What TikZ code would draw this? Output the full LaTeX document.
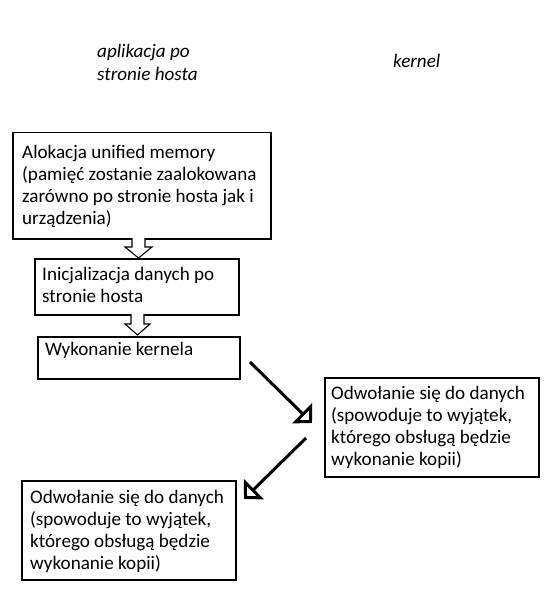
\documentclass[tikz,border=0pt]{standalone}
\usepackage{fontspec}
\setmainfont{Carlito}
\usetikzlibrary{arrows.meta,calc}
\begin{document}
\begin{tikzpicture}[x=1pt,y=-1pt,
  box/.style={draw, line width=1.5pt, inner sep=0pt, anchor=north west},
  txt/.style={inner sep=0pt, anchor=north west, align=left, font=\fontsize{19.1}{22}\selectfont},
  lbl/.style={inner sep=0pt, anchor=north west, align=left, font=\fontsize{19.1}{22.5}\selectfont\itshape},
  hollow/.style={draw, line width=1.1pt, fill=white, line join=miter},
  diag/.style={line width=3pt, -{Triangle[open, length=14pt, width=28pt]}}]
\useasboundingbox (0,0) rectangle (556,612);

% column headings
\node[lbl] (hhost) at (97,41.6) {\strut aplikacja po\\stronie hosta};
\node[lbl] (hkern) at (393,51.6) {\strut kernel};

% boxes
\node[box, minimum width=258, minimum height=106] (b1) at (12,132) {};
\node[txt] (t1) at (22,142.6) {\strut Alokacja unified memory\\(pamięć zostanie zaalokowana\\zarówno po stronie hosta jak i\\urządzenia)};

\node[box, minimum width=204, minimum height=56] (b2) at (34,258) {};
\node[txt] (t2) at (42,264.6) {\strut Inicjalizacja danych po\\stronie hosta};

\node[box, minimum width=202, minimum height=42] (b3) at (37,336) {};
\node[txt] (t3) at (45,339.6) {\strut Wykonanie kernela};

\node[box, minimum width=214, minimum height=99] (b4) at (324,377) {};
\node[txt] (t4) at (331,383.6) {\strut Odwołanie się do danych\\(spowoduje to wyjątek,\\którego obsługą będzie\\wykonanie kopii)};

\node[box, minimum width=214, minimum height=99] (b5) at (21,480) {};
\node[txt] (t5) at (30,487.6) {\strut Odwołanie się do danych\\(spowoduje to wyjątek,\\którego obsługą będzie\\wykonanie kopii)};

% hollow block arrows
\coordinate (h1) at (138.5,238);
\draw[hollow] ($(h1)+(-6.5,0)$) -- ($(h1)+(-6.5,9)$) -- ($(h1)+(-13.5,9)$) -- ($(h1)+(0,20)$)
  -- ($(h1)+(13.5,9)$) -- ($(h1)+(6.5,9)$) -- ($(h1)+(6.5,0)$);
\coordinate (h2) at (137.5,314);
\draw[hollow] ($(h2)+(-6.5,0)$) -- ($(h2)+(-6.5,10)$) -- ($(h2)+(-12.5,10)$) -- ($(h2)+(0,21)$)
  -- ($(h2)+(12.5,10)$) -- ($(h2)+(6.5,10)$) -- ($(h2)+(6.5,0)$);

% diagonal arrows
\coordinate (d1s) at (250,362);
\coordinate (d1e) at (312,423);
\coordinate (d2s) at (306,438);
\coordinate (d2e) at (244,499);
\draw[diag] (d1s) -- (d1e);
\draw[diag] (d2s) -- (d2e);
\end{tikzpicture}
\end{document}
